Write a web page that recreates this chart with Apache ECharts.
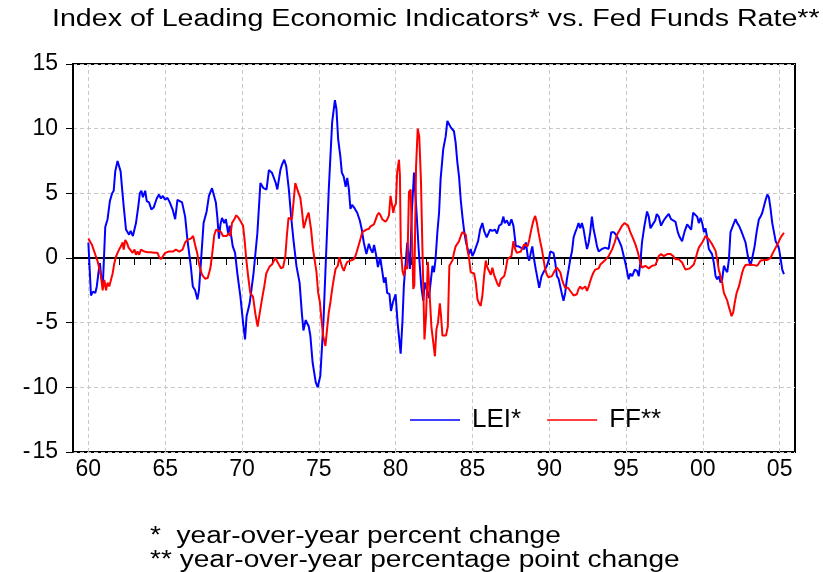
<!DOCTYPE html>
<html><head><meta charset="utf-8">
<script src="https://cdn.jsdelivr.net/npm/echarts@6/dist/echarts.min.js"></script>
<style>html,body{margin:0;padding:0;background:#fff}#c{width:823px;height:572px}</style>
</head><body><div id="c"></div>
<script>
const titleText = 'Index of Leading Economic Indicators* vs. Fed Funds Rate**';
const noteLines = ['*  year-over-year percent change', '** year-over-year percentage point change'];
const seriesNames = ['LEI*', 'FF**'];

const leiYears = [1960.00,1960.17,1960.30,1960.45,1960.55,1960.65,1960.75,1960.85,1960.95,1961.10,1961.25,1961.40,1961.55,1961.65,1961.75,1961.90,1962.00,1962.10,1962.20,1962.30,1962.45,1962.55,1962.65,1962.75,1962.90,1963.00,1963.10,1963.25,1963.35,1963.45,1963.55,1963.70,1963.80,1963.95,1964.10,1964.25,1964.45,1964.60,1964.72,1964.85,1965.00,1965.15,1965.30,1965.50,1965.65,1965.80,1965.90,1966.10,1966.30,1966.45,1966.67,1966.80,1966.95,1967.10,1967.20,1967.30,1967.50,1967.70,1967.85,1968.05,1968.15,1968.30,1968.40,1968.50,1968.60,1968.70,1968.85,1968.95,1969.10,1969.20,1969.40,1969.55,1969.70,1969.90,1970.07,1970.20,1970.30,1970.50,1970.62,1970.75,1971.00,1971.20,1971.40,1971.60,1971.75,1971.95,1972.20,1972.30,1972.50,1972.60,1972.75,1972.88,1973.05,1973.20,1973.35,1973.55,1973.75,1973.90,1974.00,1974.15,1974.25,1974.35,1974.45,1974.60,1974.80,1974.93,1975.10,1975.30,1975.43,1975.65,1975.87,1976.05,1976.15,1976.26,1976.40,1976.50,1976.62,1976.75,1976.85,1976.96,1977.06,1977.17,1977.30,1977.50,1977.67,1977.80,1977.93,1978.10,1978.26,1978.37,1978.50,1978.60,1978.72,1978.85,1979.00,1979.13,1979.24,1979.35,1979.45,1979.60,1979.70,1979.83,1980.00,1980.13,1980.33,1980.45,1980.54,1980.76,1980.93,1981.05,1981.20,1981.35,1981.50,1981.67,1981.80,1981.90,1982.02,1982.17,1982.28,1982.40,1982.50,1982.60,1982.72,1982.83,1982.93,1983.10,1983.26,1983.37,1983.48,1983.59,1983.70,1983.80,1983.91,1984.02,1984.13,1984.24,1984.35,1984.46,1984.57,1984.67,1984.78,1984.89,1985.00,1985.10,1985.22,1985.37,1985.50,1985.65,1985.76,1985.93,1986.02,1986.15,1986.30,1986.46,1986.60,1986.74,1986.88,1987.02,1987.10,1987.24,1987.40,1987.54,1987.67,1987.83,1988.00,1988.15,1988.37,1988.48,1988.60,1988.70,1988.80,1988.90,1989.00,1989.13,1989.25,1989.35,1989.50,1989.63,1989.75,1989.85,1989.96,1990.07,1990.18,1990.28,1990.40,1990.50,1990.61,1990.72,1990.83,1990.93,1991.04,1991.15,1991.26,1991.37,1991.48,1991.59,1991.70,1991.80,1991.91,1992.02,1992.13,1992.24,1992.35,1992.46,1992.57,1992.67,1992.78,1992.89,1993.00,1993.11,1993.22,1993.43,1993.65,1993.87,1994.04,1994.20,1994.35,1994.52,1994.70,1994.85,1994.96,1995.17,1995.28,1995.40,1995.57,1995.72,1995.83,1995.93,1996.04,1996.20,1996.37,1996.48,1996.59,1996.74,1996.90,1997.00,1997.13,1997.28,1997.45,1997.63,1997.78,1997.93,1998.07,1998.22,1998.37,1998.50,1998.65,1998.80,1998.98,1999.10,1999.24,1999.37,1999.50,1999.63,1999.74,1999.85,1999.96,2000.07,2000.17,2000.28,2000.39,2000.50,2000.60,2000.72,2000.83,2000.93,2001.04,2001.15,2001.26,2001.37,2001.48,2001.59,2001.70,2001.80,2001.96,2002.13,2002.24,2002.35,2002.50,2002.63,2002.78,2002.93,2003.10,2003.20,2003.37,2003.50,2003.65,2003.76,2003.87,2003.98,2004.09,2004.20,2004.30,2004.41,2004.52,2004.63,2004.74,2004.85,2004.96,2005.07,2005.17,2005.28];
const leiValues = [1.2,-2.9,-2.6,-2.7,-2.2,-1.2,-0.4,-1.6,-1.9,2.4,3.0,4.4,5.0,5.2,6.7,7.5,7.4,6.7,5.3,4.0,2.2,2.3,1.8,2.1,1.7,2.2,2.7,4.0,5.0,5.2,4.7,5.2,4.4,4.3,3.75,3.9,4.6,4.9,4.6,4.8,4.5,4.65,4.3,3.7,3.0,4.5,4.65,4.3,3.2,1.4,-0.65,-2.2,-2.5,-3.2,-2.5,-0.8,2.7,3.6,4.8,5.4,5.5,4.3,3.1,1.5,2.6,3.1,2.7,3.0,1.9,2.5,0.9,0.4,-1.2,-3.0,-5.0,-6.3,-4.5,-3.5,-3.6,-1.2,1.9,5.8,5.4,5.3,6.8,6.6,5.8,5.3,6.8,7.2,7.6,7.1,5.3,3.2,1.4,-0.65,-1.9,-4.3,-5.6,-4.8,-4.7,-5.3,-6.0,-8.1,-9.6,-10.0,-9.1,-5.0,-1.1,5.3,10.5,12.2,11.5,9.2,7.9,6.6,6.3,5.5,6.2,5.3,3.8,4.1,3.9,3.5,2.9,2.2,1.2,0.3,1.1,0.7,0.4,1.0,0.3,-0.7,0.05,-0.1,-1.9,-1.5,-2.7,-2.8,-4.1,-3.4,-2.8,-5.0,-7.4,-4.8,-2.1,1.2,-0.85,3.3,6.6,3.8,0.7,-2.2,-3.3,-1.9,-2.4,-3.1,-1.9,-0.6,-1.1,-0.1,2.0,3.5,6.1,8.4,9.4,10.6,10.5,10.1,10.0,9.8,8.9,7.4,6.3,4.5,3.2,2.1,1.3,0.8,0.3,0.7,0.15,0.4,0.3,1.3,2.2,2.7,2.1,1.6,1.5,2.2,2.1,2.2,1.9,2.5,2.6,3.2,2.7,2.9,2.5,3.0,2.5,0.9,0.9,0.8,0.7,1.2,0.15,-0.2,0.4,0.9,0.0,-0.9,-0.8,-2.3,-1.4,-1.1,-1.2,-0.6,-0.2,0.5,0.6,0.4,-0.4,-1.4,-1.6,-2.2,-2.8,-3.3,-2.7,-1.65,-0.9,-0.1,0.5,1.6,2.0,2.3,2.7,2.3,2.7,2.2,1.4,0.7,1.2,2.0,3.2,2.2,1.6,0.9,0.5,0.7,0.8,0.7,2.0,2.0,1.8,1.4,0.9,0.15,-0.4,-1.65,-1.2,-1.4,-0.9,-1.0,-1.4,-0.4,1.2,2.5,3.6,3.2,2.3,2.6,2.9,3.4,3.2,2.5,2.9,3.2,3.4,3.0,2.9,2.8,2.0,1.6,1.3,2.0,2.6,2.7,2.2,3.5,3.4,3.2,2.7,3.1,2.7,2.0,2.3,1.6,0.7,0.6,0.3,-0.4,-1.4,-1.65,-1.4,-1.9,-1.65,-0.6,-0.9,-1.1,-0.1,2.0,2.5,3.0,2.7,2.5,2.1,2.0,1.2,0.15,-0.6,-0.1,0.9,2.0,3.0,3.2,3.5,4.0,4.5,4.9,4.7,3.8,2.7,2.0,1.3,1.05,0.7,-0.1,-0.9,-1.25];

const ffYears = [1960.00,1960.12,1960.24,1960.37,1960.50,1960.60,1960.71,1960.82,1960.93,1961.04,1961.15,1961.25,1961.36,1961.47,1961.58,1961.69,1961.80,1961.90,1962.00,1962.12,1962.23,1962.30,1962.40,1962.50,1962.62,1962.75,1962.88,1963.00,1963.10,1963.20,1963.31,1963.42,1963.65,1963.85,1964.07,1964.28,1964.50,1964.60,1964.72,1964.83,1965.00,1965.25,1965.50,1965.70,1965.92,1966.13,1966.30,1966.45,1966.67,1966.82,1966.95,1967.10,1967.23,1967.40,1967.60,1967.77,1967.94,1968.05,1968.20,1968.32,1968.48,1968.64,1968.76,1968.88,1969.00,1969.12,1969.24,1969.35,1969.50,1969.63,1969.78,1969.93,1970.07,1970.17,1970.28,1970.40,1970.54,1970.72,1970.87,1971.02,1971.15,1971.30,1971.45,1971.58,1971.70,1971.80,1971.95,1972.06,1972.17,1972.28,1972.40,1972.54,1972.68,1972.82,1972.92,1973.03,1973.15,1973.25,1973.37,1973.47,1973.58,1973.69,1973.80,1973.90,1974.02,1974.12,1974.23,1974.34,1974.45,1974.50,1974.62,1974.75,1974.85,1974.96,1975.07,1975.17,1975.28,1975.43,1975.54,1975.65,1975.76,1975.87,1975.98,1976.09,1976.24,1976.33,1976.42,1976.52,1976.63,1976.74,1976.85,1976.96,1977.07,1977.18,1977.28,1977.40,1977.50,1977.60,1977.72,1977.83,1977.96,1978.10,1978.26,1978.37,1978.48,1978.59,1978.70,1978.80,1978.91,1979.02,1979.13,1979.24,1979.35,1979.46,1979.57,1979.67,1979.74,1979.85,1979.93,1980.02,1980.10,1980.22,1980.28,1980.34,1980.45,1980.54,1980.65,1980.76,1980.87,1980.98,1981.07,1981.15,1981.22,1981.33,1981.44,1981.54,1981.65,1981.75,1981.88,1981.98,1982.10,1982.22,1982.33,1982.45,1982.56,1982.66,1982.76,1982.88,1982.96,1983.05,1983.16,1983.28,1983.40,1983.50,1983.60,1983.70,1983.80,1983.91,1984.02,1984.13,1984.24,1984.35,1984.46,1984.57,1984.67,1984.78,1984.89,1985.00,1985.11,1985.22,1985.33,1985.43,1985.54,1985.65,1985.76,1985.87,1985.98,1986.09,1986.20,1986.30,1986.41,1986.52,1986.63,1986.74,1986.85,1986.96,1987.07,1987.17,1987.28,1987.39,1987.54,1987.67,1987.78,1987.89,1988.02,1988.15,1988.26,1988.37,1988.48,1988.59,1988.70,1988.80,1988.91,1989.00,1989.09,1989.20,1989.30,1989.41,1989.52,1989.63,1989.74,1989.85,1989.96,1990.07,1990.17,1990.35,1990.50,1990.61,1990.72,1990.83,1990.93,1991.04,1991.22,1991.37,1991.48,1991.59,1991.70,1991.80,1991.91,1992.02,1992.13,1992.24,1992.35,1992.46,1992.57,1992.67,1992.78,1992.89,1993.00,1993.11,1993.22,1993.33,1993.43,1993.65,1993.87,1994.09,1994.26,1994.41,1994.56,1994.74,1994.91,1995.00,1995.13,1995.28,1995.43,1995.61,1995.78,1995.93,1996.04,1996.15,1996.26,1996.48,1996.70,1996.90,1997.00,1997.13,1997.28,1997.46,1997.68,1997.90,1998.07,1998.22,1998.43,1998.65,1998.87,1999.00,1999.15,1999.28,1999.41,1999.52,1999.63,1999.74,1999.85,1999.96,2000.07,2000.17,2000.28,2000.39,2000.50,2000.61,2000.72,2000.83,2000.93,2001.04,2001.15,2001.26,2001.37,2001.48,2001.59,2001.70,2001.80,2001.87,2001.98,2002.07,2002.20,2002.35,2002.46,2002.57,2002.67,2002.78,2002.89,2003.10,2003.32,2003.54,2003.76,2003.98,2004.20,2004.41,2004.52,2004.63,2004.74,2004.85,2004.96,2005.07,2005.17,2005.28];
const ffValues = [1.5,1.5,1.0,0.9,0.1,-0.25,-0.8,-1.4,-2.5,-1.7,-2.5,-1.9,-2.2,-1.7,-1.2,-0.4,0.1,0.4,0.65,0.9,1.2,0.65,1.4,1.2,0.8,0.65,0.4,0.65,0.25,0.5,0.25,0.65,0.5,0.45,0.45,0.4,0.4,0.1,-0.1,0.1,0.4,0.5,0.5,0.65,0.5,0.65,1.2,1.4,1.5,1.7,1.0,0.3,-0.6,-1.3,-1.6,-1.55,-0.8,0.2,1.8,2.2,2.1,2.0,1.7,1.8,1.7,1.9,1.7,2.7,3.0,3.3,3.1,2.8,2.5,1.4,-0.1,-1.4,-2.7,-3.0,-4.3,-5.3,-4.3,-3.2,-2.2,-1.2,-0.9,-0.65,-0.5,-0.4,0.0,-0.1,-0.5,-0.8,-0.7,0.1,1.7,3.1,3.2,3.0,4.5,5.8,5.8,5.0,4.65,3.7,2.3,2.2,3.2,3.5,3.4,2.2,0.7,-0.3,-1.1,-2.7,-3.4,-4.7,-6.0,-6.8,-5.5,-4.2,-3.4,-2.4,-1.6,-0.85,-0.6,0.05,-0.3,-0.7,-1.0,-0.6,-0.3,-0.45,-0.2,-0.1,-0.1,0.2,0.6,1.0,1.5,2.0,2.0,2.2,2.25,2.45,2.4,2.6,2.7,3.3,3.5,3.3,3.0,2.9,2.8,3.0,3.3,4.8,4.3,3.5,4.0,4.2,6.6,7.6,6.4,0.7,-1.0,-1.4,-0.6,-0.85,5.1,5.3,1.5,-2.4,-2.1,7.0,10.0,9.4,6.0,0.5,-6.3,-4.5,-0.3,-2.9,-5.3,-6.5,-7.6,-5.5,-5.0,-3.5,-4.5,-6.0,-6.1,-6.0,-5.3,-0.6,-0.75,-0.2,0.4,0.9,1.05,1.3,1.7,2.0,2.0,1.8,0.7,0.0,-1.1,-1.1,-1.2,-1.9,-3.2,-3.5,-3.7,-2.9,-1.4,-0.2,-0.75,-0.9,-1.3,-0.75,-1.3,-1.65,-2.0,-2.2,-1.65,-1.8,-1.4,-0.9,-0.1,-0.2,0.15,1.3,0.7,0.4,0.4,0.5,0.4,1.05,1.2,0.9,1.4,2.0,2.6,3.0,3.25,2.7,2.0,1.3,0.7,-0.1,-0.9,-1.3,-1.5,-1.65,-1.4,-1.0,-0.75,-0.75,-1.1,-1.65,-2.0,-2.3,-2.3,-2.55,-2.7,-2.9,-2.9,-2.8,-2.4,-2.2,-2.4,-2.3,-2.2,-2.55,-2.2,-1.8,-1.4,-1.1,-0.9,-0.75,-0.8,-0.5,-0.35,-0.15,0.15,0.65,1.2,1.8,2.1,2.5,2.7,2.6,2.5,2.0,1.6,1.05,0.4,-0.35,-0.75,-0.7,-0.6,-0.8,-0.6,-0.55,-0.3,0.15,0.3,0.15,0.3,0.3,0.15,-0.1,-0.1,-0.35,-0.9,-0.75,-0.8,-0.65,-0.5,-0.1,0.4,0.8,0.9,1.2,1.45,1.7,1.6,1.45,1.45,1.05,0.9,0.55,-0.1,-0.9,-1.4,-1.9,-2.7,-2.8,-3.3,-3.8,-4.2,-4.5,-4.2,-3.5,-2.7,-2.2,-1.65,-1.1,-0.75,-0.55,-0.5,-0.5,-0.55,-0.6,-0.2,-0.15,-0.15,0.0,0.3,0.55,0.8,1.05,1.3,1.6,1.75,1.95];

const zip = (xs, vs) => xs.map((x, i) => [x, vs[i]]);
const FONT = '"Liberation Sans", Arial, sans-serif';
const gridGray = '#c8c8c8';
const vLines = [];
for (let y = 1960; y <= 2005; y += 5) vLines.push({ xAxis: y, lineStyle: { color: gridGray, type: [4, 3], width: 1 } });
vLines.push({ yAxis: 0, lineStyle: { color: '#000', type: 'solid', width: 1 } });

const chart = echarts.init(document.getElementById('c'), null, { renderer: 'canvas' });
chart.setOption({
  animation: false,
  backgroundColor: '#fff',
  grid: { left: 73, right: 28, top: 64, bottom: 120, show: true, borderColor: '#000', borderWidth: 2, backgroundColor: 'transparent' },
  xAxis: {
    type: 'value', min: 1959, max: 2006, interval: 1,
    axisLine: { show: true, lineStyle: { color: '#000', width: 2 } },
    axisTick: { show: true, length: 7, lineStyle: { color: '#000', width: 1 } },
    axisLabel: { margin: 6, fontSize: 23, color: '#000', fontFamily: FONT,
      formatter: v => (Math.round(v) % 5 === 0 ? String(Math.round(v) % 100).padStart(2, '0') : '') },
    splitLine: { show: false }
  },
  yAxis: {
    type: 'value', min: -15, max: 15, interval: 5,
    axisLine: { show: true, lineStyle: { color: '#000', width: 2 } },
    axisTick: { show: true, length: 7, lineStyle: { color: '#000', width: 1 } },
    axisLabel: { margin: 15, fontSize: 23, color: '#000', fontFamily: FONT,
      formatter: v => (v < 0 ? '-\u200A' + (-v) : String(v)) },
    splitLine: { show: true, lineStyle: { color: gridGray, type: [4, 3], width: 1 } }
  },
  legend: {
    data: seriesNames, left: 410, top: 407, padding: 0, itemWidth: 50, itemHeight: 1.5, itemGap: 26, icon: 'rect',
    textStyle: { fontSize: 26, fontFamily: FONT, color: '#000', padding: [0, 0, 0, 7] }
  },
  series: [
    { name: seriesNames[0], type: 'line', data: zip(leiYears, leiValues), symbol: 'none', showSymbol: false,
      lineStyle: { color: '#0000ff', width: 2 }, itemStyle: { color: '#0000ff' }, z: 3,
      markLine: { silent: true, symbol: 'none', label: { show: false }, z: 1, animation: false, data: vLines } },
    { name: seriesNames[1], type: 'line', data: zip(ffYears, ffValues), symbol: 'none', showSymbol: false,
      lineStyle: { color: '#ff0000', width: 2 }, itemStyle: { color: '#ff0000' }, z: 4 }
  ],
  graphic: [
    { type: 'text', x: 52, y: 8, scaleX: 1.243, silent: true,
      style: { text: titleText, font: '23px "Liberation Sans", Arial, sans-serif', fill: '#000', textVerticalAlign: 'top', verticalAlign: 'top' } },
    { type: 'text', x: 150, y: 525, scaleX: 1.222, silent: true,
      style: { text: noteLines[0], font: '23px "Liberation Sans", Arial, sans-serif', fill: '#000', textVerticalAlign: 'top', verticalAlign: 'top' } },
    { type: 'text', x: 150, y: 549, scaleX: 1.222, silent: true,
      style: { text: noteLines[1], font: '23px "Liberation Sans", Arial, sans-serif', fill: '#000', textVerticalAlign: 'top', verticalAlign: 'top' } }
  ]
});
</script></body></html>
